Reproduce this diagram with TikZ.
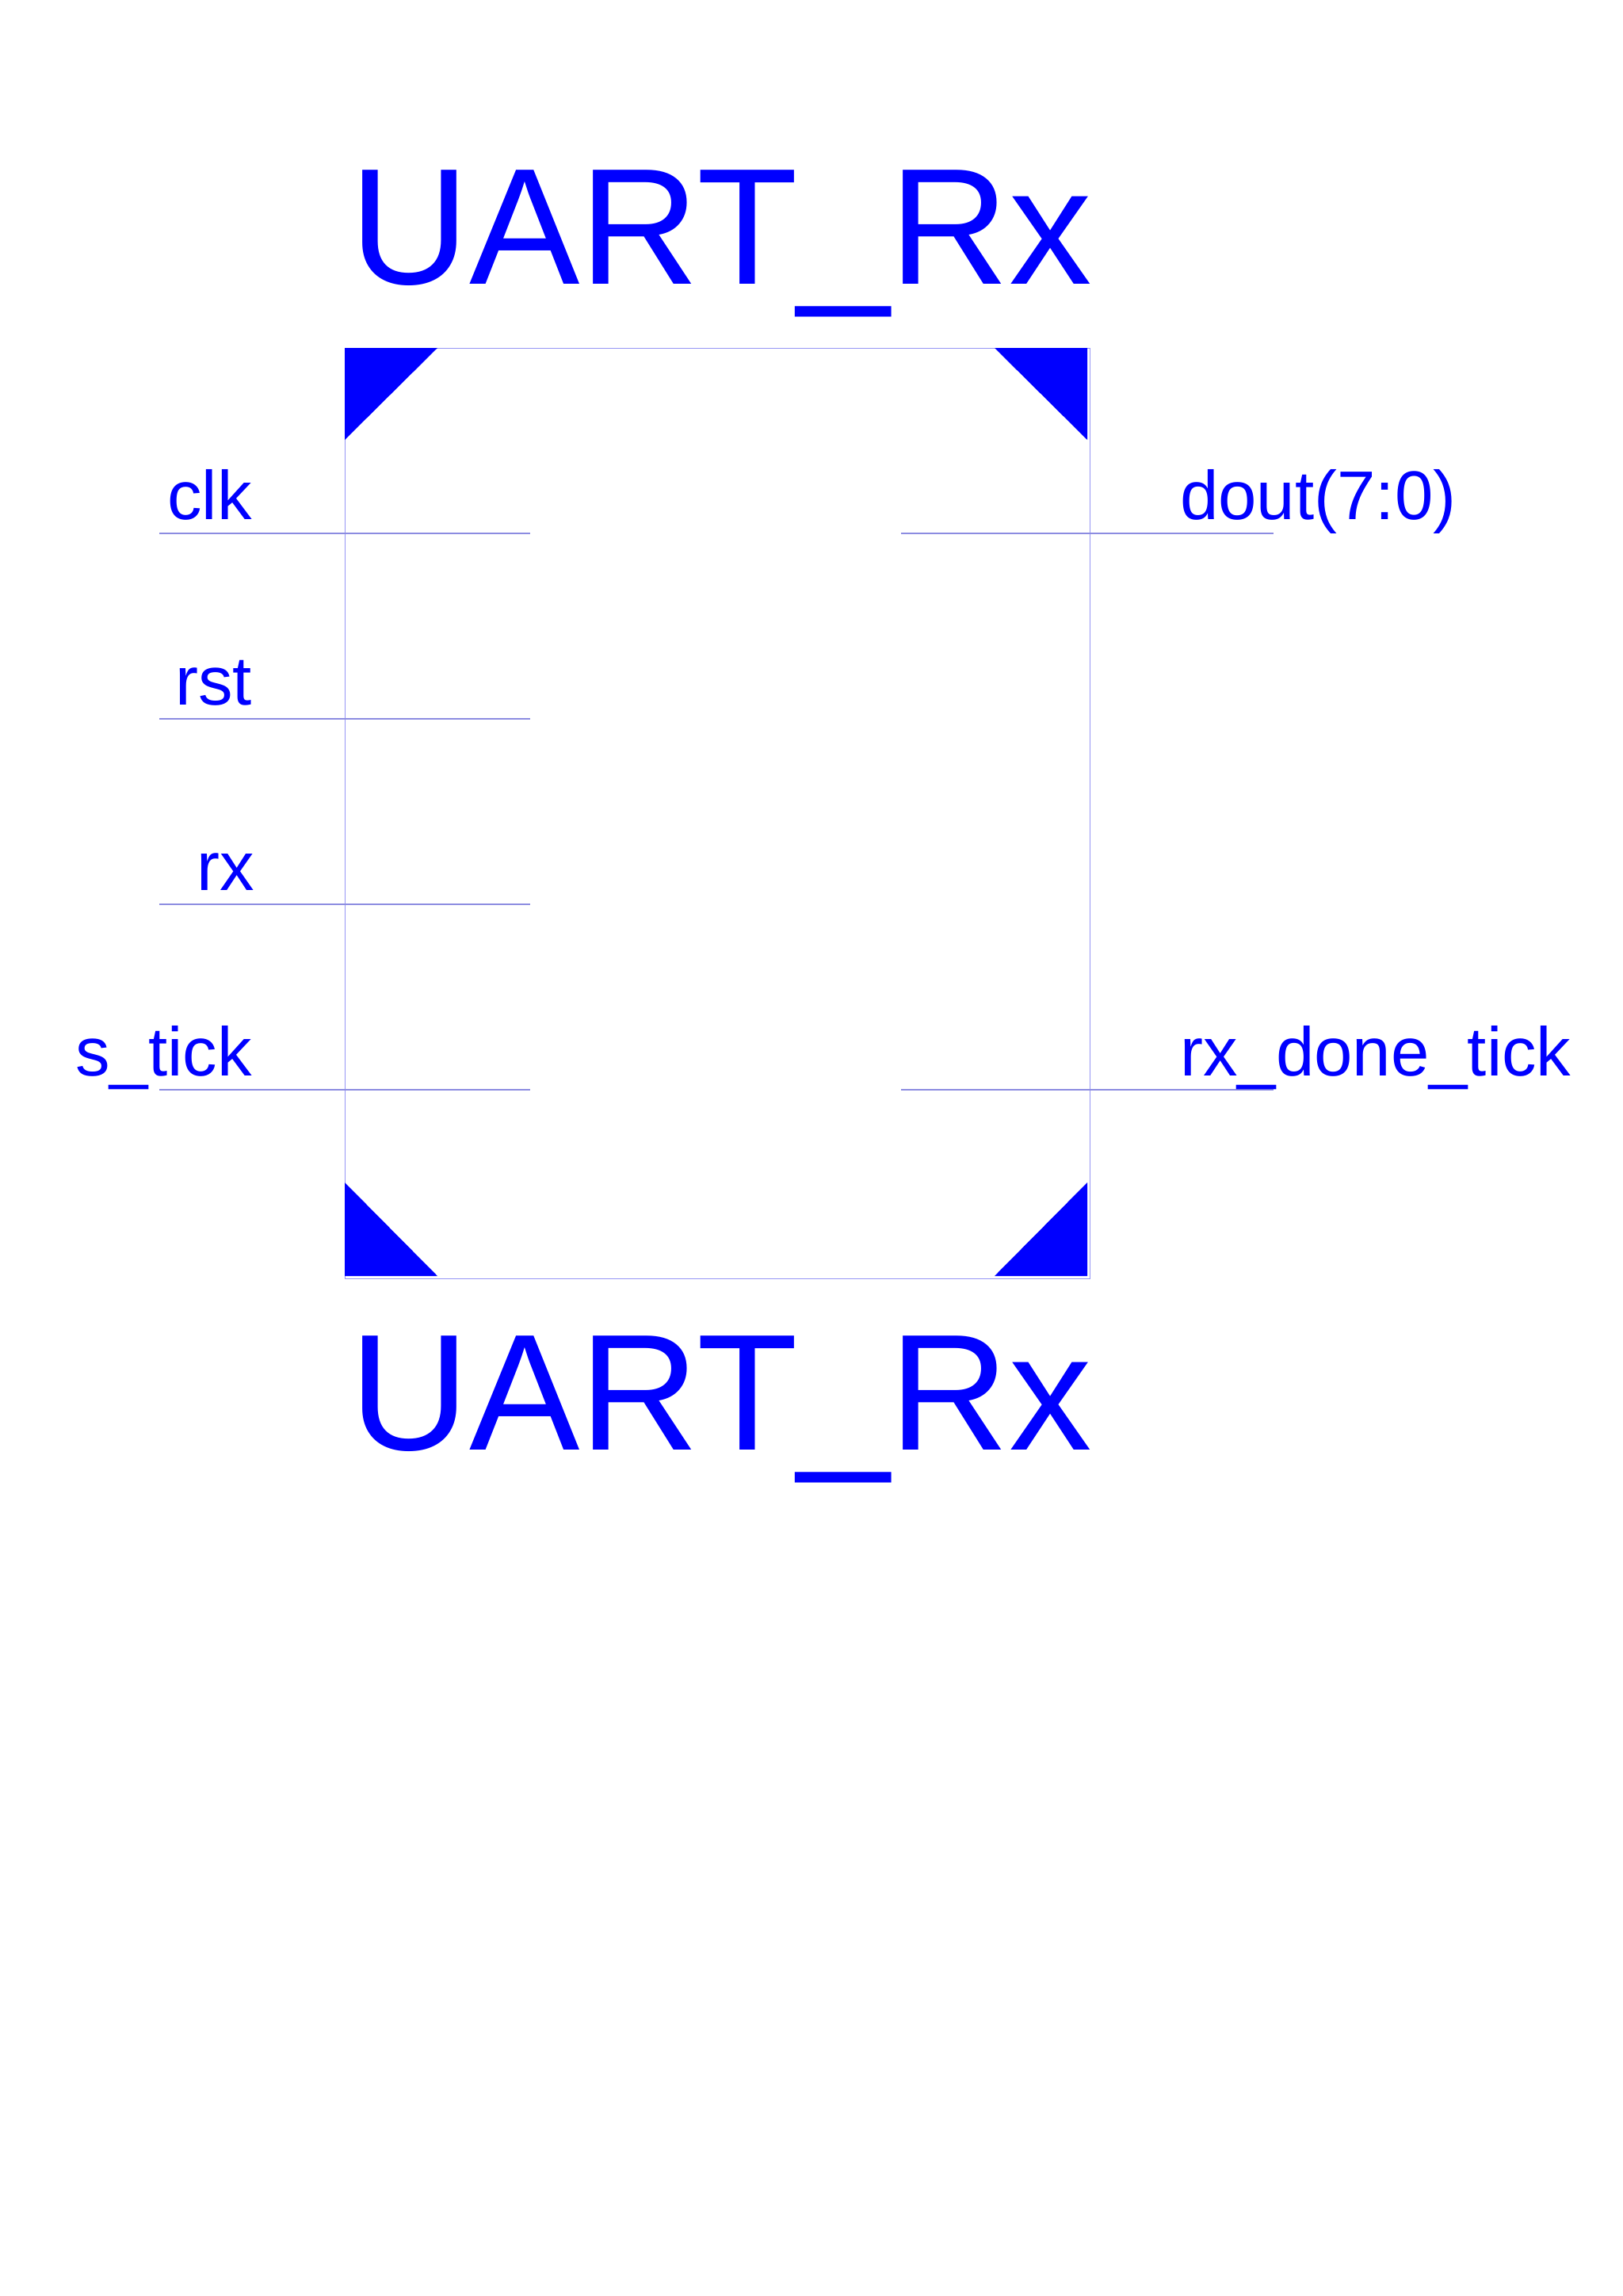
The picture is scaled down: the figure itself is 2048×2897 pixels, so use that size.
\documentclass[tikz,border=0pt]{standalone}
\usepackage{fontspec}
\setmainfont{Liberation Sans}
\definecolor{pure}{RGB}{0,0,255}
\definecolor{edge}{RGB}{150,150,245}
\definecolor{pin}{RGB}{140,140,225}
\begin{document}
\begin{tikzpicture}[x=1pt,y=-1pt,
  title/.style={inner sep=0pt,text=pure,font=\fontsize{209}{209}\selectfont,anchor=base},
  lbl/.style={inner sep=0pt,text=pure,font=\fontsize{87}{87}\selectfont},
  pinline/.style={draw=pin,line width=1.6pt},
  corner/.style={fill=pure,draw=none}]
\useasboundingbox[fill=white] (0,0) rectangle (2048,2897);
% block
\node[draw=edge,line width=1.4pt,minimum width=940pt,minimum height=1174pt,inner sep=0pt,anchor=north west] (box) at (435,439) {};
% corner triangles
\fill[corner] (435,439) -- (552,439) -- (435,555) -- cycle;
\fill[corner] (1255,439) -- (1372,439) -- (1372,555) -- cycle;
\fill[corner] (435,1492) -- (435,1610) -- (552,1610) -- cycle;
\fill[corner] (1372,1492) -- (1372,1610) -- (1255,1610) -- cycle;
% titles
\node[title] (ttop) at (910,358) {UART\_Rx};
\node[title] (tbot) at (910,1829) {UART\_Rx};
% pin end coordinates
\coordinate (clkA) at (201,673);  \coordinate (clkB) at (669,673);
\coordinate (rstA) at (201,907);  \coordinate (rstB) at (669,907);
\coordinate (rxA) at (201,1141);  \coordinate (rxB) at (669,1141);
\coordinate (stA) at (201,1375);  \coordinate (stB) at (669,1375);
\coordinate (doA) at (1137,673);  \coordinate (doB) at (1607,673);
\coordinate (rdA) at (1137,1375); \coordinate (rdB) at (1607,1375);
\draw[pinline] (clkA) -- (clkB);
\draw[pinline] (rstA) -- (rstB);
\draw[pinline] (rxA) -- (rxB);
\draw[pinline] (stA) -- (stB);
\draw[pinline] (doA) -- (doB);
\draw[pinline] (rdA) -- (rdB);
% labels
\node[lbl,anchor=base east] (lclk) at (318,655) {clk};
\node[lbl,anchor=base east] (lrst) at (318,889) {rst};
\node[lbl,anchor=base east] (lrx) at (321,1123) {rx};
\node[lbl,anchor=base east] (lst) at (318,1357) {s\_tick};
\node[lbl,anchor=base west] (ldo) at (1489,655) {dout(7:0)};
\node[lbl,anchor=base west] (lrd) at (1489,1357) {rx\_done\_tick};
\end{tikzpicture}
\end{document}
